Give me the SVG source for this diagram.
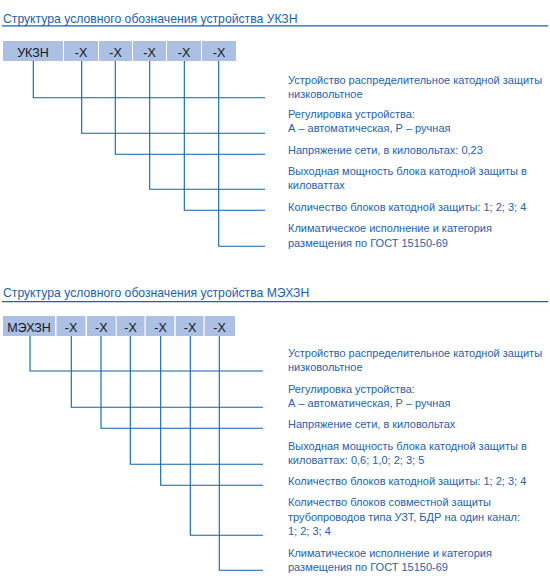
<svg xmlns="http://www.w3.org/2000/svg" width="550" height="581" viewBox="0 0 550 581">
<style>
.title{font-family:"Liberation Sans",Arial,sans-serif;font-size:12.2px;fill:#1a62ab}
.rule{stroke:#1a62ab;stroke-width:1.2}
.box{fill:#abc0e3}
.bt{font-family:"Liberation Sans",Arial,sans-serif;font-size:12.5px;fill:#111827;text-anchor:middle}
.lbl{font-family:"Liberation Sans",Arial,sans-serif;font-size:11px;fill:#2563ad}
.ln{stroke:#0a63b0;stroke-width:1.1;fill:none}
</style>
<rect width="550" height="581" fill="#ffffff"/>

<!-- Section 1 -->
<g id="title1">
<text class="title" x="3" y="23">Структура условного обозначения устройства УКЗН</text>
<line class="rule" x1="2" y1="25.8" x2="548" y2="25.8"/>
</g>
<g id="code1">
<g id="u-ukzn"><rect class="box" x="3" y="41" width="60" height="20"/><text class="bt" x="33" y="57">УКЗН</text></g>
<g id="u-x1"><rect class="box" x="64" y="41" width="34" height="20"/><text class="bt" x="81" y="57">-X</text></g>
<g id="u-x2"><rect class="box" x="99" y="41" width="33" height="20"/><text class="bt" x="115.5" y="57">-X</text></g>
<g id="u-x3"><rect class="box" x="133" y="41" width="33" height="20"/><text class="bt" x="149.5" y="57">-X</text></g>
<g id="u-x4"><rect class="box" x="167" y="41" width="34" height="20"/><text class="bt" x="184" y="57">-X</text></g>
<g id="u-x5"><rect class="box" x="202" y="41" width="34" height="20"/><text class="bt" x="219" y="57">-X</text></g>
</g>
<g id="connectors1">
<path class="ln" d="M33.3 61V97.7H265"/>
<path class="ln" d="M81.7 61V133.3H265"/>
<path class="ln" d="M115.3 61V154.3H265"/>
<path class="ln" d="M149.7 61V189.3H265"/>
<path class="ln" d="M184.3 61V210.3H265"/>
<path class="ln" d="M218.7 61V246.3H265"/>
</g>
<g id="labels1">
<g id="l1-1"><text class="lbl" x="288" y="83.5">Устройство распределительное катодной защиты</text><text class="lbl" x="288" y="97.5">низковольтное</text></g>
<g id="l1-2"><text class="lbl" x="288" y="118">Регулировка устройства:</text><text class="lbl" x="288" y="132">А – автоматическая, Р – ручная</text></g>
<g id="l1-3"><text class="lbl" x="288" y="154">Напряжение сети, в киловольтах: 0,23</text></g>
<g id="l1-4"><text class="lbl" x="288" y="175">Выходная мощность блока катодной защиты в</text><text class="lbl" x="288" y="189">киловаттах</text></g>
<g id="l1-5"><text class="lbl" x="288" y="210.5">Количество блоков катодной защиты: 1; 2; 3; 4</text></g>
<g id="l1-6"><text class="lbl" x="288" y="232">Климатическое исполнение и категория</text><text class="lbl" x="288" y="246.5">размещения по ГОСТ 15150-69</text></g>
</g>

<!-- Section 2 -->
<g id="title2">
<text class="title" x="3" y="296.7">Структура условного обозначения устройства МЭХЗН</text>
<line class="rule" x1="2" y1="301.7" x2="548" y2="301.7"/>
</g>
<g id="code2">
<g id="m-mehzn"><rect class="box" x="3" y="316" width="52" height="20"/><text class="bt" x="29" y="331.7">МЭХЗН</text></g>
<g id="m-x1"><rect class="box" x="56.5" y="316" width="29" height="20"/><text class="bt" x="71" y="331.7">-X</text></g>
<g id="m-x2"><rect class="box" x="87" y="316" width="28.7" height="20"/><text class="bt" x="101.3" y="331.7">-X</text></g>
<g id="m-x3"><rect class="box" x="116.7" y="316" width="27.8" height="20"/><text class="bt" x="130.5" y="331.7">-X</text></g>
<g id="m-x4"><rect class="box" x="145.7" y="316" width="28.6" height="20"/><text class="bt" x="160.5" y="331.7">-X</text></g>
<g id="m-x5"><rect class="box" x="175.7" y="316" width="27.8" height="20"/><text class="bt" x="190" y="331.7">-X</text></g>
<g id="m-x6"><rect class="box" x="204.7" y="316" width="30.3" height="20"/><text class="bt" x="219.5" y="331.7">-X</text></g>
</g>
<g id="connectors2">
<path class="ln" d="M30 336V371H263"/>
<path class="ln" d="M71.3 336V407.3H263"/>
<path class="ln" d="M101 336V428.3H263"/>
<path class="ln" d="M130.3 336V464.3H263"/>
<path class="ln" d="M160.7 336V485.3H263"/>
<path class="ln" d="M190.3 336V535.3H263"/>
<path class="ln" d="M219.3 336V570.3H263"/>
</g>
<g id="labels2">
<g id="l2-1"><text class="lbl" x="288" y="356.5">Устройство распределительное катодной защиты</text><text class="lbl" x="288" y="371">низковольтное</text></g>
<g id="l2-2"><text class="lbl" x="288" y="393">Регулировка устройства:</text><text class="lbl" x="288" y="407">А – автоматическая, Р – ручная</text></g>
<g id="l2-3"><text class="lbl" x="288" y="428">Напряжение сети, в киловольтах</text></g>
<g id="l2-4"><text class="lbl" x="288" y="449.5">Выходная мощность блока катодной защиты в</text><text class="lbl" x="288" y="463.5">киловаттах: 0,6; 1,0; 2; 3; 5</text></g>
<g id="l2-5"><text class="lbl" x="288" y="484.5">Количество блоков катодной защиты: 1; 2; 3; 4</text></g>
<g id="l2-6"><text class="lbl" x="288" y="506">Количество блоков совместной защиты</text><text class="lbl" x="288" y="520.5">трубопроводов типа УЗТ, БДР на один канал:</text><text class="lbl" x="288" y="534.5">1; 2; 3; 4</text></g>
<g id="l2-7"><text class="lbl" x="288" y="556.5">Климатическое исполнение и категория</text><text class="lbl" x="288" y="570.5">размещения по ГОСТ 15150-69</text></g>
</g>
</svg>
